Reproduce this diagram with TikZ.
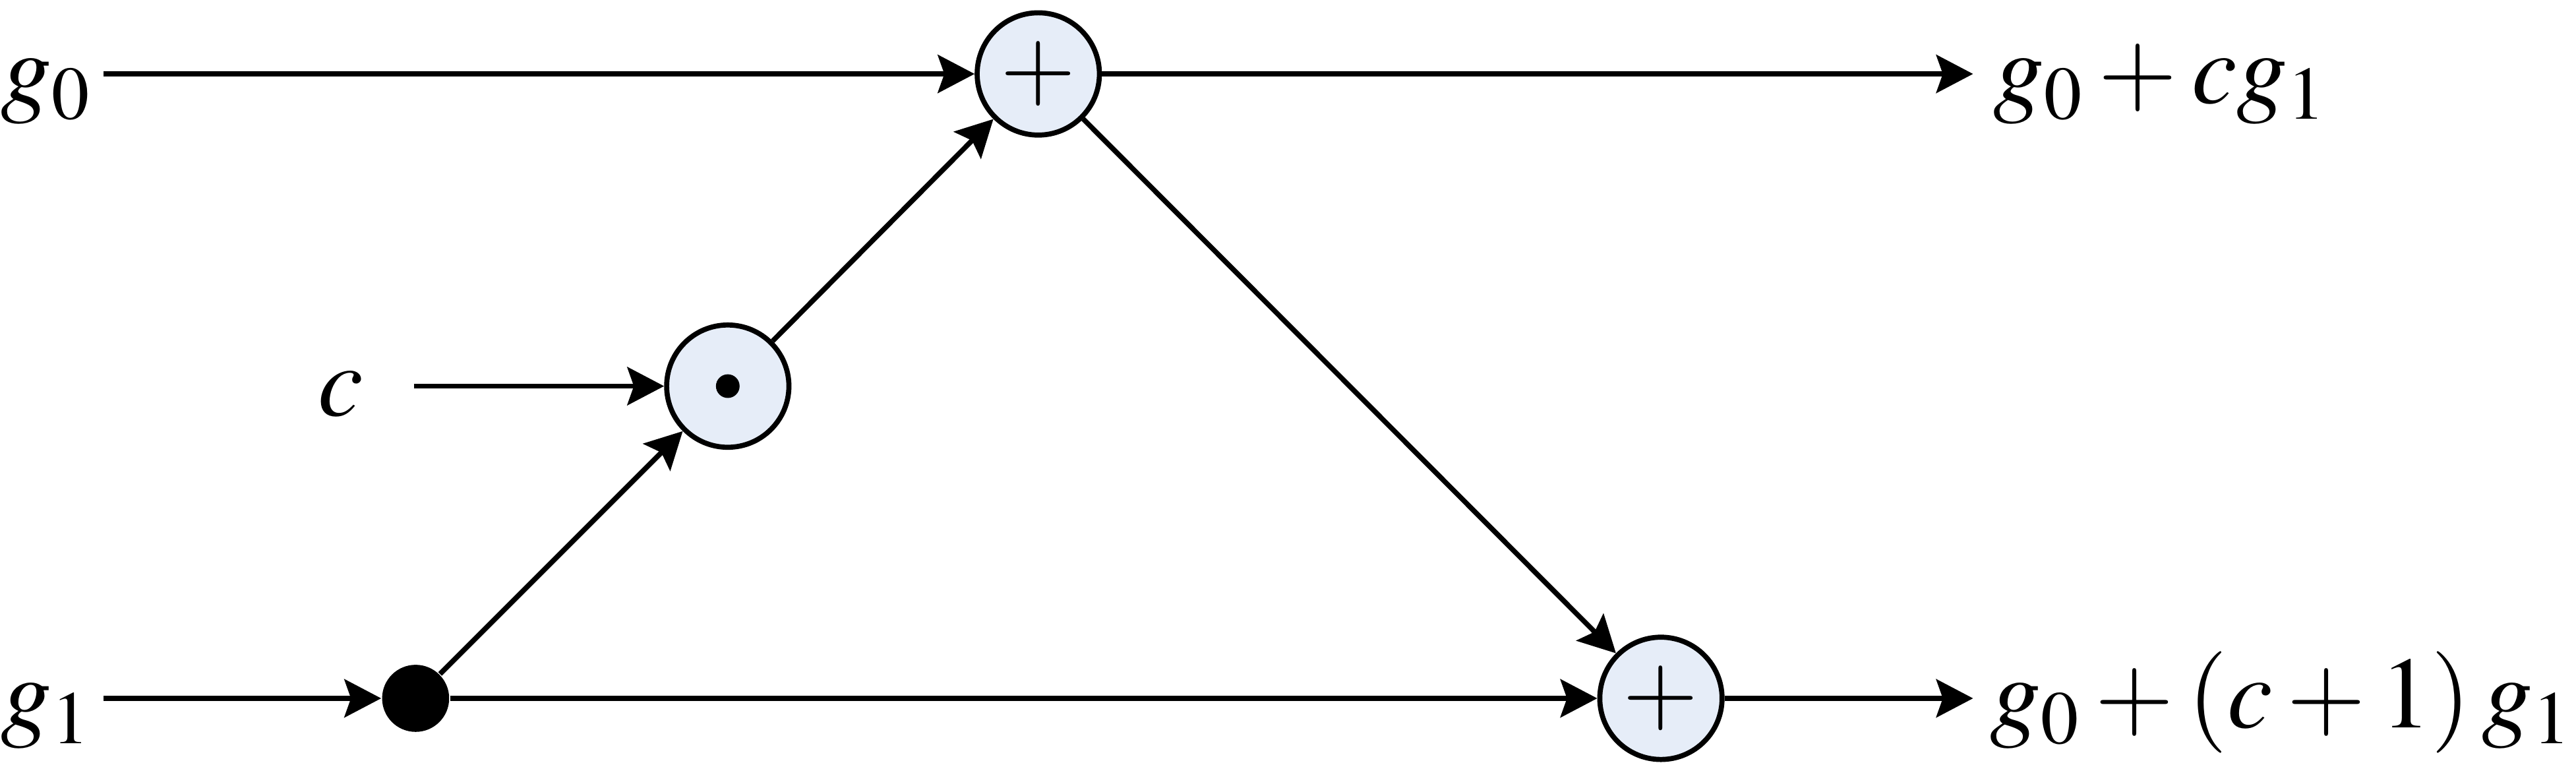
\documentclass[tikz,border=0pt]{standalone}
\usepackage{mathptmx}
\usetikzlibrary{arrows.meta}
\definecolor{OpFill}{RGB}{230,237,248}
\tikzset{
  opnode/.style={draw, circle, fill=OpFill, line width=1.1pt,
                 minimum size=0.93cm, inner sep=0pt,
                 font=\fontsize{21}{25}\selectfont},
  joint/.style={fill, circle, inner sep=0pt, minimum size=0.51cm},
  tinydot/.style={fill, circle, inner sep=0pt, minimum size=0.18cm},
  sig/.style={anchor=base west, inner sep=0pt,
              font=\fontsize{22}{26}\selectfont},
  arr/.style={-{Stealth[length=0.28cm,width=0.29cm,inset=0.05cm]},
              line width=1.1pt},
}
\begin{document}
\begin{tikzpicture}[x=0.0125cm, y=-0.0125cm]
    \useasboundingbox (0,0) rectangle (1568,464);
    % Operators
    \node[opnode] (add0) at (632,45) {$+$};
    \node[opnode] (mul) at (443,235) {};
    \node[tinydot] (muldot) at (mul) {};
    \node[opnode] (add1) at (1011,425) {$+$};
    \node[joint] (split) at (253,425) {};

    % Inputs and outputs
    \node[sig] (g0) at (0,63) {$g_0$};
    \node[sig] (g1) at (0,443) {$g_1$};
    \node[sig] (c) at (193,253) {$c$};
    \node[sig] (res0) at (1213,63) {$g_0 + cg_1$};
    \node[sig] (res1) at (1211,443) {$g_0 + (c + 1)\,g_1$};
    \coordinate (in0) at (63,45);
    \coordinate (in1) at (63,425);
    \coordinate (inc) at (252,235);
    \coordinate (out0) at (1201,45);
    \coordinate (out1) at (1201,425);

    % Edges
    \draw[arr] (in0) -- (add0);
    \draw[arr] (add0) -- (out0);
    \draw[arr] (in1) -- (split);
    \draw[arr] (split) -- (add1);
    \draw[arr] (add1) -- (out1);
    \draw[arr] (inc) -- (mul);
    \draw[arr] (split) -- (mul);
    \draw[arr] (mul) -- (add0);
    \draw[arr] (add0) -- (add1);
\end{tikzpicture}
\end{document}
